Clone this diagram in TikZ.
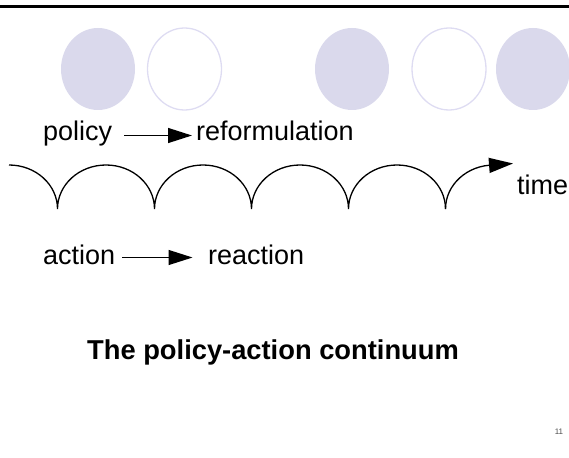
\documentclass[tikz,border=0pt]{standalone}
\usepackage{fontspec}
\setmainfont{Liberation Sans}
\usepackage{tikz}
\usetikzlibrary{arrows.meta}
\usetikzlibrary{calc}
\usetikzlibrary{positioning}
\definecolor{lavender}{RGB}{218,217,236}
\definecolor{ringline}{RGB}{222,220,242}
\tikzset{
    lbl/.style = {inner sep=0,anchor=base west,font=\fontsize{27}{31}\selectfont},
    flow/.style = {line width=1.3pt,-{Triangle[length=24pt,width=15pt]}},
    wave/.style = {line width=1.3pt},
    dotfill/.style = {fill=lavender},
    dotring/.style = {draw=ringline,line width=1.3pt},
    titletext/.style = {inner sep=0,anchor=base,font=\fontsize{27.3}{32}\selectfont\bfseries}
}
\begin{document}
\begin{tikzpicture}[x=1pt,y=1pt]
        \useasboundingbox (0,0) rectangle (569,-457);
        \clip (0,0) rectangle (569,-457);
        % Header rule
        \coordinate (ruleL) at (0,-7);
        \coordinate (ruleR) at (569,-7);
        \draw[line width=3pt] (ruleL) -- (ruleR);
        % Dots
        \foreach \cx/\kind in {98/dotfill,184.5/dotring,352/dotfill,449/dotring,533/dotfill}
            \path[\kind] (\cx,-69) ellipse[x radius=37,y radius=41];
        % Labels
        \node[lbl] (policy) at (43,-141) {policy};
        \node[lbl] (reform) at (196,-141) {reformulation};
        \node[lbl] (action) at (43,-264) {action};
        \node[lbl] (react) at (208,-264) {reaction};
        \node[lbl] (time) at (517,-194) {time};
        \node[titletext] (title) at (273,-359) {The policy-action continuum};
        \node[inner sep=0,anchor=base,font=\fontsize{8}{9}\selectfont,text=black!70] (page) at (559,-434) {11};
        % Arrows
        \draw[flow] ($(policy.base east)+(12,5.5)$) to ($(reform.base west)+(-4,5.5)$);
        \draw[flow] ($(action.base east)+(7,6.5)$) to ($(react.base west)+(-15.5,6.5)$);
        % Time line
        \draw[wave] (9,-165) coordinate (w0)
            arc[start angle=90,end angle=0,x radius=48.5,y radius=44] coordinate (c1)
            \foreach \i in {2,...,5} {
                arc[start angle=180,end angle=0,x radius=48.5,y radius=44] coordinate (c\i)
            };
        \draw[wave,-{Triangle[length=24pt,width=15pt]}] (c5)
            arc[start angle=180,end angle=90,x radius=48.5,y radius=44] coordinate (wtop)
            -- ++(19,1.5) coordinate (wend);
    \end{tikzpicture}
\end{document}
